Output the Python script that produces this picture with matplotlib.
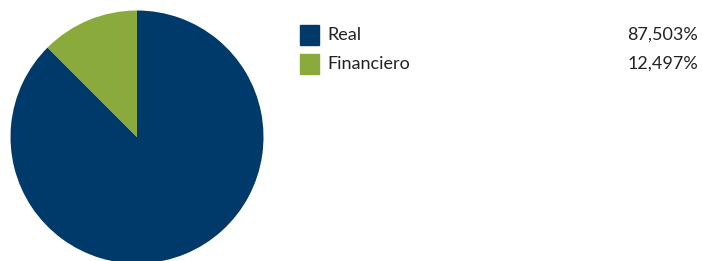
import matplotlib.pyplot as plt
from matplotlib.patches import Rectangle

labels = ['Real', 'Financiero']
values = [87.503, 12.497]
colors = ['#003a6a', '#8aaa3b']

W, H = 702, 261
fig = plt.figure(figsize=(W / 100, H / 100), dpi=100)

# pie: center (137, 137) px from top, radius ~126.5 px
cx, cy, r = 137, 137, 126.5
ax = fig.add_axes([(cx - r) / W, (H - cy - r) / H, 2 * r / W, 2 * r / H])
ax.pie(values, colors=colors, startangle=90, counterclock=False,
       wedgeprops={'linewidth': 0})
ax.set_xlim(-1, 1)
ax.set_ylim(-1, 1)
ax.axis('off')

# legend rows
row_y = [35, 64]
for lab, val, col, y in zip(labels, values, colors, row_y):
    fig.patches.append(Rectangle((300 / W, (H - y - 9.5) / H), 19 / W, 19 / H,
                                 transform=fig.transFigure, color=col))
    fig.text(327 / W, (H - y) / H, lab, family='Lato', fontsize=13,
             color='#222222', va='center', ha='left')
    pct = f'{val:.3f}%'.replace('.', ',')
    fig.text(698 / W, (H - y) / H, pct, family='Lato', fontsize=13,
             color='#222222', va='center', ha='right')

fig.savefig('out.png', dpi=100)
